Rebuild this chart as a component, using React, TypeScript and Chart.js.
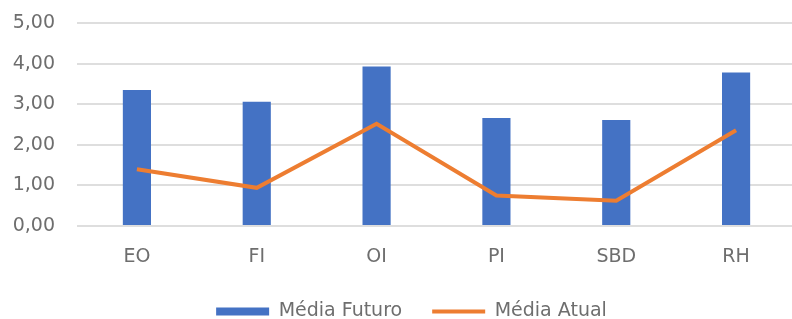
import React, { useEffect, useRef } from "react";
import { Chart, registerables } from "chart.js";

Chart.register(...registerables);

const categories = ["EO", "FI", "OI", "PI", "SBD", "RH"];
const mediaFuturo = [3.35, 3.06, 3.93, 2.66, 2.61, 3.78];
const mediaAtual = [1.4, 0.94, 2.52, 0.75, 0.62, 2.36];
const yTicks = [0, 1, 2, 3, 4, 5];

const BLUE = "#4472C4";
const ORANGE = "#ED7D31";
const TEXT = "#6e6e6e";
const FONT = "DejaVu Sans";

export default function App() {
  const ref = useRef<HTMLCanvasElement | null>(null);

  useEffect(() => {
    document.body.style.margin = "0";
    const shiftLegend = {
      id: "shiftLegend",
      afterLayout(chart: any) {
        const lg = chart.legend;
        if (lg) {
          lg.left += 27;
          lg.top += 12;
          lg.bottom += 12;
        }
        const xs = chart.scales && chart.scales.x;
        if (xs) xs.bottom += 20;
      },
    };
    const chart = new Chart(ref.current as HTMLCanvasElement, {
      type: "bar",
      data: {
        labels: categories,
        datasets: [
          {
            type: "bar",
            label: "Média Futuro",
            data: mediaFuturo,
            backgroundColor: BLUE,
            barPercentage: 0.235,
            categoryPercentage: 1,
            order: 2,
          },
          {
            type: "line",
            label: "Média Atual",
            data: mediaAtual,
            borderColor: ORANGE,
            backgroundColor: ORANGE,
            borderWidth: 4,
            pointRadius: 0,
            tension: 0,
            order: 1,
          } as any,
        ],
      },
      options: {
        animation: false,
        responsive: false,
        layout: { padding: { top: 23, right: 4, left: 0, bottom: 0 } },
        plugins: {
          tooltip: { enabled: false },
          legend: {
            position: "bottom",
            labels: {
              usePointStyle: true,
              pointStyleWidth: 53,
              boxHeight: 8,
              padding: 30,
              color: TEXT,
              font: { family: FONT, size: 19 },
              generateLabels: () => [
                {
                  text: "Média Futuro",
                  fillStyle: BLUE,
                  strokeStyle: BLUE,
                  lineWidth: 0,
                  pointStyle: "rect",
                  hidden: false,
                  datasetIndex: 0,
                  fontColor: TEXT,
                } as any,
                {
                  text: "Média Atual",
                  fillStyle: ORANGE,
                  strokeStyle: ORANGE,
                  lineWidth: 4,
                  pointStyle: "line",
                  hidden: false,
                  datasetIndex: 1,
                  fontColor: TEXT,
                } as any,
              ],
            },
          },
        },
        scales: {
          x: {
            grid: { display: false, drawTicks: false },
            border: { display: false },
            ticks: {
              color: TEXT,
              font: { family: FONT, size: 19 },
              padding: 20,
            },
            afterFit: (s: any) => {
              s.height = 34;
              s.paddingLeft = 0;
              s.paddingRight = 0;
            },
          },
          y: {
            min: 0,
            max: 5,
            afterBuildTicks: (s: any) => {
              s.ticks = yTicks.map((v) => ({ value: v }));
            },
            grid: { color: "#dedede", lineWidth: 2, drawTicks: false },
            border: { display: false },
            ticks: {
              color: TEXT,
              font: { family: FONT, size: 19 },
              padding: 22,
              callback: (v: any) => Number(v).toFixed(2).replace(".", ","),
            },
            afterFit: (s: any) => {
              s.width = 77;
              s.paddingTop = 0;
              s.paddingBottom = 0;
            },
          },
        },
      },
      plugins: [shiftLegend],
    });
    return () => chart.destroy();
  }, []);

  return (
    <div style={{ width: 792, height: 319, overflow: "hidden", position: "relative" }}>
      <canvas ref={ref} width={800} height={319} style={{ display: "block" }} />
    </div>
  );
}
